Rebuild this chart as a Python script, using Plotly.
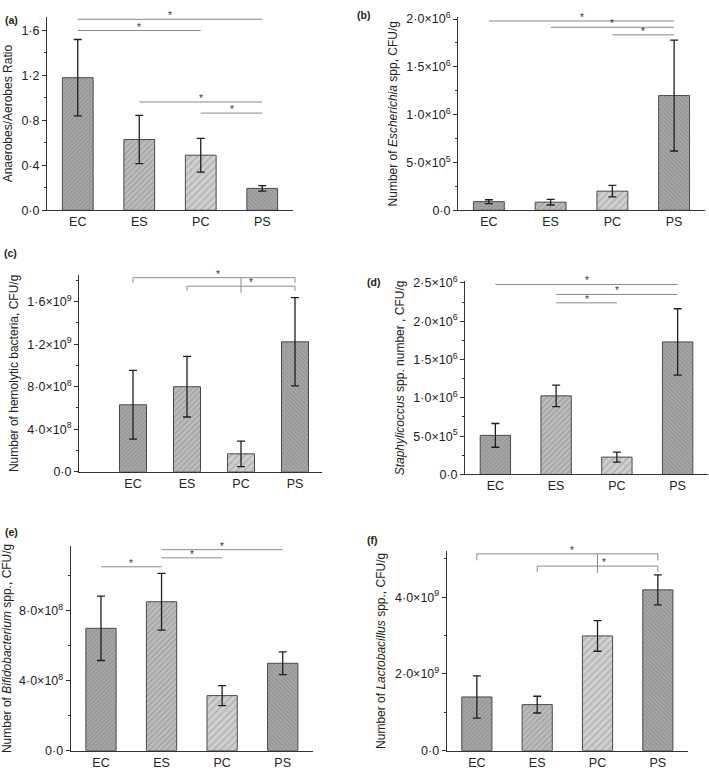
import plotly.graph_objects as go

CATS = ["EC", "ES", "PC", "PS"]

# ---- data ----
A_VALS = [1.18, 0.63, 0.49, 0.195]
A_ERR = [0.34, 0.215, 0.15, 0.025]
B_VALS = [0.09e6, 0.085e6, 0.20e6, 1.20e6]
B_ERR = [0.02e6, 0.03e6, 0.06e6, 0.58e6]
C_VALS = [0.63e9, 0.80e9, 0.169e9, 1.222e9]
C_ERR = [0.323e9, 0.285e9, 0.12e9, 0.415e9]
D_VALS = [0.51e6, 1.026e6, 0.226e6, 1.73e6]
D_ERR = [0.155e6, 0.141e6, 0.066e6, 0.433e6]
E_VALS = [7.0e8, 8.52e8, 3.15e8, 5.0e8]
E_ERR = [1.84e8, 1.62e8, 0.575e8, 0.65e8]
F_VALS = [1.40e9, 1.20e9, 2.99e9, 4.19e9]
F_ERR = [0.55e9, 0.218e9, 0.40e9, 0.39e9]

# tick labels
A_TICKS = [0, 0.4, 0.8, 1.2, 1.6]
A_TEXT = ["0·0", "0·4", "0·8", "1·2", "1·6"]
B_TICKS = [0, 0.5e6, 1.0e6, 1.5e6, 2.0e6]
B_TEXT = ["0·0", "5·0×10<sup>5</sup>", "1·0×10<sup>6</sup>", "1·5×10<sup>6</sup>", "2·0×10<sup>6</sup>"]
C_TICKS = [0, 4e8, 8e8, 1.2e9, 1.6e9]
C_TEXT = ["0·0", "4·0×10<sup>8</sup>", "8·0×10<sup>8</sup>", "1·2×10<sup>9</sup>", "1·6×10<sup>9</sup>"]
D_TICKS = [0, 0.5e6, 1.0e6, 1.5e6, 2.0e6, 2.5e6]
D_TEXT = ["0·0", "5·0×10<sup>5</sup>", "1·0×10<sup>6</sup>", "1·5×10<sup>6</sup>", "2·0×10<sup>6</sup>", "2·5×10<sup>6</sup>"]
E_TICKS = [0, 4e8, 8e8]
E_TEXT = ["0·0", "4·0×10<sup>8</sup>", "8·0×10<sup>8</sup>"]
F_TICKS = [0, 2e9, 4e9]
F_TEXT = ["0·0", "2·0×10<sup>9</sup>", "4·0×10<sup>9</sup>"]

# significance lines: (from, to, level)
A_SIG = [("EC", "PS", 1.70), ("EC", "PC", 1.60), ("ES", "PS", 0.964), ("PC", "PS", 0.865)]
B_SIG = [("EC", "PS", 1.98e6), ("ES", "PS", 1.914e6), ("PC", "PS", 1.835e6)]
D_SIG = [("EC", "PS", 2.48e6), ("ES", "PS", 2.35e6), ("ES", "PC", 2.24e6)]
E_SIG = [("EC", "ES", 10.52e8), ("ES", "PC", 11.03e8), ("ES", "PS", 11.5e8)]
# brackets: (from, to, level, drop-to, star x position)
C_BRK = [("EC", "PS", 1.825e9, 1.776e9, 1.58), ("ES", "PS", 1.745e9, 1.70e9, 2.18)]
C_MID = ("PC", 1.825e9, 1.683e9)
F_BRK = [("EC", "PS", 5.13e9, 4.96e9, 1.57), ("ES", "PS", 4.81e9, 4.65e9, 2.10)]
F_MID = ("PC", 5.13e9, 4.63e9)

W, H = 709, 778
FONT = "Liberation Sans, Arial, sans-serif"
TXT = "#222222"
AX = "#333333"
SIGC = "#8a8a8a"

# bar styles per group
BG = ["#a8a8a8", "#bdbdbd", "#d0d0d0", "#a8a8a8"]
FG = ["#7c7c7c", "#8a8a8a", "#9a9a9a", "#7a7a7a"]
SHP = ["/", "/", "/", "\\"]
SZ = [3, 4, 5, 3]

# panel geometry (pixels): left, right, zero-line y, px per unit, range top
PANELS = [
    dict(key="a", vals=A_VALS, err=A_ERR, tv=A_TICKS, tt=A_TEXT, minor=0.2,
         title="Anaerobes/Aerobes Ratio", xl=47, xr=293, y0=207, ppu=114.4, top=1.72, xr0=-0.5,
         lab=(3, 13)),
    dict(key="b", vals=B_VALS, err=B_ERR, tv=B_TICKS, tt=B_TEXT, minor=0.25e6,
         title="Number of <i>Escherichia</i> spp, CFU/g", xl=458, xr=705, y0=207, ppu=97.35e-6,
         top=2.02e6, xr0=-0.5, lab=(355, 8)),
    dict(key="c", vals=C_VALS, err=C_ERR, tv=C_TICKS, tt=C_TEXT, minor=2e8,
         title="Number of hemolytic bacteria, CFU/g", xl=79, xr=322, y0=473.3, ppu=108.3e-9,
         top=1.85e9, xr0=-1.0, lab=(2, 251)),
    dict(key="d", vals=D_VALS, err=D_ERR, tv=D_TICKS, tt=D_TEXT, minor=0.25e6,
         title="<i>Staphylicoccus</i> spp. number , CFU/g", xl=465, xr=708, y0=476, ppu=78e-6,
         top=2.52e6, xr0=-0.5, lab=(365, 280)),
    dict(key="e", vals=E_VALS, err=E_ERR, tv=E_TICKS, tt=E_TEXT, minor=2e8,
         title="Number of <i>Bifidobacterium</i> spp., CFU/g", xl=70.7, xr=313, y0=757.3, ppu=17.8e-8,
         top=11.7e8, xr0=-0.5, lab=(3, 535)),
    dict(key="f", vals=F_VALS, err=F_ERR, tv=F_TICKS, tt=F_TEXT, minor=1e9,
         title="Number of <i>Lactobacillus</i> spp., CFU/g", xl=446.7, xr=688, y0=757.3, ppu=39.08e-9,
         top=5.2e9, xr0=-0.5, lab=(365, 543)),
]

fig = go.Figure()
shapes = []
annotations = []


def idx(c):
    return CATS.index(c)


for i, p in enumerate(PANELS):
    n = "" if i == 0 else str(i + 1)
    xa, ya = "x" + n, "y" + n
    for j, c in enumerate(CATS):
        fig.add_trace(go.Bar(
            x=[c], y=[p["vals"][j]], width=0.5,
            xaxis=xa, yaxis=ya, showlegend=False,
            marker=dict(color=BG[j], line=dict(color="#4a4a4a", width=1),
                        pattern=dict(shape=SHP[j], fgcolor=FG[j], bgcolor=BG[j],
                                     size=SZ[j], solidity=0.4, fillmode="overlay")),
            error_y=dict(type="data", array=[p["err"][j]], visible=True,
                         color="#1e1e1e", thickness=1.3, width=4),
        ))
    dx = dict(domain=[p["xl"] / W, p["xr"] / W], anchor=ya, type="category",
              categoryorder="array", categoryarray=CATS, range=[p["xr0"], 3.5],
              showline=True, linecolor=AX, linewidth=1, ticks="", showgrid=False,
              zeroline=False, tickfont=dict(size=12.5, color=TXT, family=FONT))
    ytop_px = p["y0"] - p["top"] * p["ppu"]
    dy = dict(domain=[1 - p["y0"] / H, 1 - ytop_px / H], anchor=xa, range=[0, p["top"]],
              tickmode="array", tickvals=p["tv"], ticktext=p["tt"],
              showline=True, linecolor=AX, linewidth=1, ticks="outside", ticklen=4,
              tickcolor=AX, showgrid=False, zeroline=False,
              minor=dict(ticks="outside", ticklen=2, tickcolor=AX, dtick=p["minor"], tick0=0),
              tickfont=dict(size=12.5, color=TXT, family=FONT),
              title=dict(text=p["title"], font=dict(size=12, color=TXT, family=FONT), standoff=6))
    fig.update_layout(**{"xaxis" + n: dx, "yaxis" + n: dy})

    annotations.append(dict(xref="paper", yref="paper", x=p["lab"][0] / W, y=1 - p["lab"][1] / H,
                            xanchor="left", yanchor="middle", text="<b>(" + p["key"] + ")</b>",
                            showarrow=False, font=dict(size=10.5, color=TXT, family=FONT)))

SIGS = {0: A_SIG, 1: B_SIG, 3: D_SIG, 4: E_SIG}
for i, sig in SIGS.items():
    n = "" if i == 0 else str(i + 1)
    for a, b, lv in sig:
        shapes.append(dict(type="line", xref="x" + n, yref="y" + n, x0=idx(a), x1=idx(b),
                           y0=lv, y1=lv, line=dict(color=SIGC, width=1)))
        annotations.append(dict(xref="x" + n, yref="y" + n, x=(idx(a) + idx(b)) / 2, y=lv,
                                text="*", showarrow=False, yanchor="bottom", yshift=-4,
                                font=dict(size=10, color="#333333", family=FONT)))

BRKS = {2: (C_BRK, C_MID), 5: (F_BRK, F_MID)}
for i, (brk, mid) in BRKS.items():
    n = str(i + 1)
    for a, b, lv, dr, sx in brk:
        for x0, y0, x1, y1 in [(idx(a), lv, idx(b), lv), (idx(a), lv, idx(a), dr), (idx(b), lv, idx(b), dr)]:
            shapes.append(dict(type="line", xref="x" + n, yref="y" + n, x0=x0, x1=x1,
                               y0=y0, y1=y1, line=dict(color=SIGC, width=1)))
        annotations.append(dict(xref="x" + n, yref="y" + n, x=sx, y=lv,
                                text="*", showarrow=False, yanchor="bottom", yshift=-4,
                                font=dict(size=10, color="#333333", family=FONT)))
    shapes.append(dict(type="line", xref="x" + n, yref="y" + n, x0=idx(mid[0]), x1=idx(mid[0]),
                       y0=mid[1], y1=mid[2], line=dict(color=SIGC, width=1)))

fig.update_layout(width=W, height=H, margin=dict(l=0, r=0, t=0, b=0),
                  paper_bgcolor="white", plot_bgcolor="white",
                  shapes=shapes, annotations=annotations, bargap=0.5,
                  font=dict(family=FONT, color=TXT))

fig.write_html("out.html", config={"displayModeBar": False},
               post_script="document.body.style.margin='0';document.body.style.overflow='hidden';")
